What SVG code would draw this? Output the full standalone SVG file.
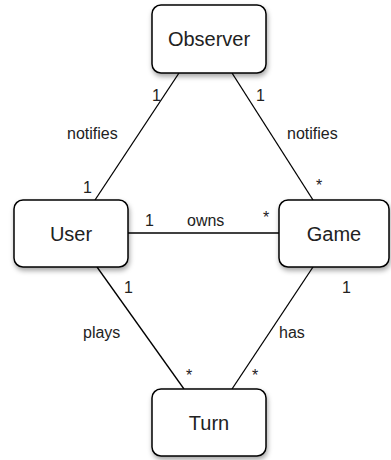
<svg xmlns="http://www.w3.org/2000/svg" width="391" height="460" viewBox="0 0 391 460">
<style>
.box{fill:#fff;stroke:#000;stroke-width:1.5;filter:url(#sh)}
.nt{font-family:"Liberation Sans",Arial,sans-serif;font-size:20px;fill:#222;text-anchor:middle}
.lt{font-family:"Liberation Sans",Arial,sans-serif;font-size:16px;fill:#222}
.ln{stroke:#000;stroke-width:1.3;fill:none}
</style>
<defs>
<filter id="sh" x="-20%" y="-20%" width="150%" height="160%">
<feDropShadow dx="1" dy="3" stdDeviation="2.5" flood-color="#000" flood-opacity="0.35"/>
</filter>
</defs>
<g id="connectors">
<line class="ln" x1="179" y1="73" x2="95" y2="200"/>
<line class="ln" x1="232" y1="73" x2="313" y2="200"/>
<line class="ln" x1="128" y1="233" x2="279" y2="233"/>
<line class="ln" x1="97" y1="267" x2="184" y2="389"/>
<line class="ln" x1="313" y1="267" x2="232" y2="389"/>
<text class="lt" x="152" y="101">1</text>
<text class="lt" x="67" y="139">notifies</text>
<text class="lt" x="83" y="193">1</text>
<text class="lt" x="256" y="101">1</text>
<text class="lt" x="287" y="139">notifies</text>
<text class="lt" x="316" y="191">*</text>
<text class="lt" x="145" y="226">1</text>
<text class="lt" x="187" y="226">owns</text>
<text class="lt" x="263" y="223">*</text>
<text class="lt" x="124" y="293">1</text>
<text class="lt" x="83" y="338">plays</text>
<text class="lt" x="186" y="381">*</text>
<text class="lt" x="342" y="293">1</text>
<text class="lt" x="279" y="338">has</text>
<text class="lt" x="252" y="381">*</text>
</g>
<g id="observer">
<rect class="box" x="152" y="5" width="114" height="68" rx="9"/>
<text class="nt" x="209" y="46">Observer</text>
</g>
<g id="user">
<rect class="box" x="14" y="200" width="114" height="67" rx="9"/>
<text class="nt" x="71" y="241">User</text>
</g>
<g id="game">
<rect class="box" x="279" y="200" width="110" height="67" rx="9"/>
<text class="nt" x="334" y="241">Game</text>
</g>
<g id="turn">
<rect class="box" x="152" y="389" width="114" height="67" rx="9"/>
<text class="nt" x="209" y="430">Turn</text>
</g>
</svg>
